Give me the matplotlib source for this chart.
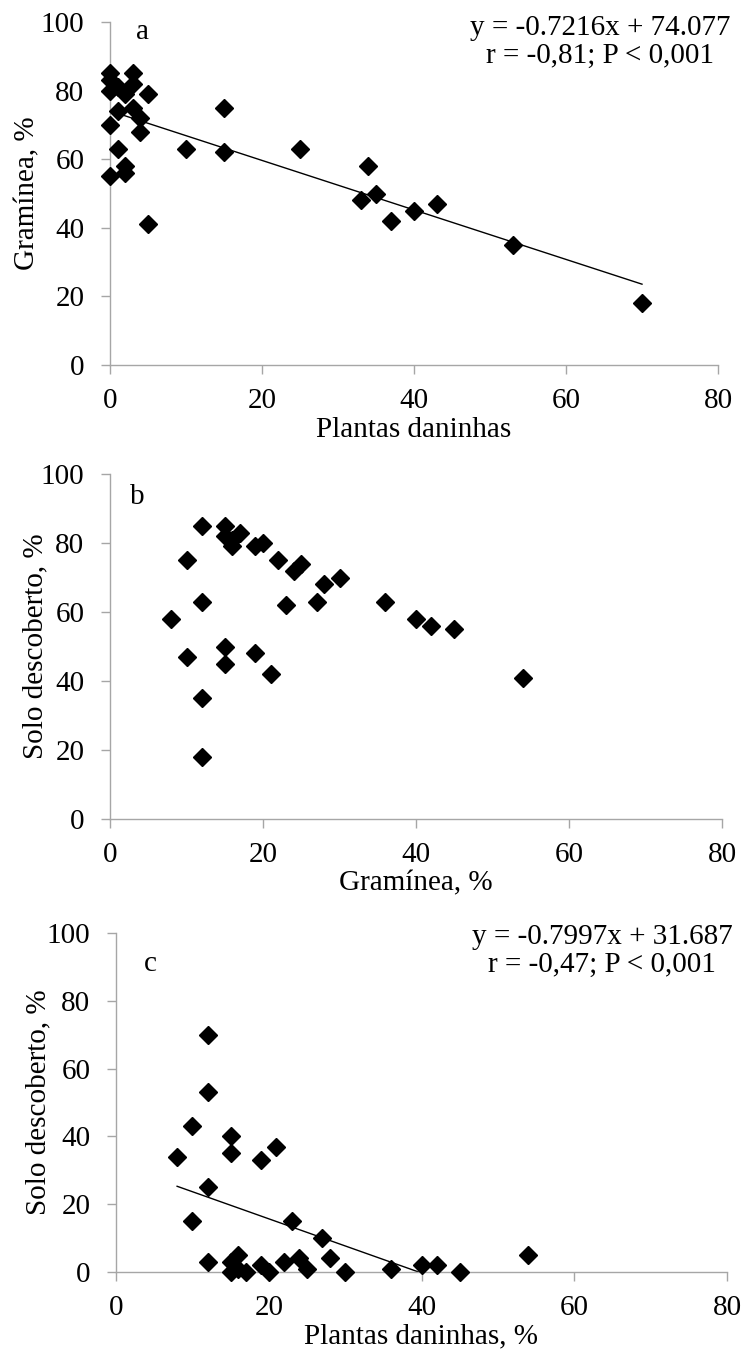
import matplotlib
matplotlib.use("Agg")
import matplotlib.pyplot as plt
import numpy as np

plt.rcParams['font.family'] = ['Liberation Serif', 'DejaVu Serif']

# Per-sample values
gramineas = [18, 35, 41, 42, 45, 47, 48, 50, 55, 56, 58, 58, 62, 63, 63, 63, 68, 70,
             72, 74, 75, 75, 79, 79, 80, 81, 82, 83, 85, 85]
plantas = [70, 53, 5, 37, 40, 43, 33, 35, 0, 2, 2, 34, 15, 25, 10, 1, 4, 0,
           4, 1, 15, 3, 5, 2, 0, 1, 3, 0, 3, 0]
b_x = [12, 12, 54, 21, 15, 10, 19, 15, 45, 42, 40, 8, 23, 12, 27, 36, 28, 30,
       24, 25, 10, 22, 16, 19, 20, 16, 15, 17, 12, 15]

# Regression coefficients shown on the chart
slope_a, intercept_a = -0.7216, 74.077
slope_c, intercept_c = -0.7997, 31.687

ticks_x = [0, 20, 40, 60, 80]
ticks_y = [0, 20, 40, 60, 80, 100]

W, H = 742, 1356
fig = plt.figure(figsize=(W / 100, H / 100), dpi=100)

def axes_px(left, top, right, bottom):
    return fig.add_axes([left / W, 1 - bottom / H, (right - left) / W, (bottom - top) / H])

ax_a = axes_px(110, 22, 718, 365)
ax_b = axes_px(110, 474, 722, 819)
ax_c = axes_px(116, 933, 727, 1272)

FS = 21
grey = '#a6a6a6'

def style(ax, xlabel, ylabel, ylab_px):
    ax.set_xlim(0, 80)
    ax.set_ylim(0, 100)
    ax.set_xticks(ticks_x)
    ax.set_yticks(ticks_y)
    for s in ['top', 'right']:
        ax.spines[s].set_visible(False)
    for s in ['left', 'bottom']:
        ax.spines[s].set_color(grey)
        ax.spines[s].set_linewidth(1.0)
    ax.tick_params(direction='out', length=6.5, width=1.0, color=grey,
                   labelsize=FS, labelcolor='black')
    ax.tick_params(axis='x', pad=10)
    ax.tick_params(axis='y', pad=12)
    ax.set_xlabel(xlabel, fontsize=FS, labelpad=2)
    ax.set_ylabel(ylabel, fontsize=FS, va='center')
    bbox = ax.get_position()
    left_px = bbox.x0 * W
    width_px = bbox.width * W
    ax.yaxis.set_label_coords((ylab_px - left_px) / width_px, 0.5)

mk = dict(marker='D', ms=9, color='black', linestyle='none', clip_on=False, zorder=3)

# Panel a
ax_a.plot(plantas, gramineas, **mk)
xa = np.array([min(plantas), max(plantas)])
ax_a.plot(xa, slope_a * xa + intercept_a, color='black', lw=1.0, zorder=2)
style(ax_a, 'Plantas daninhas', 'Gramínea, %', 27)
ax_a.text(4.3, 97, 'a', fontsize=FS, ha='center', va='center')
ax_a.text(600, H - 42, 'y = -0.7216x + 74.077\nr = -0,81; P < 0,001', transform=None,
          fontsize=FS, ha='center', va='center', multialignment='center', linespacing=1.1)

# Panel b
ax_b.plot(b_x, gramineas, **mk)
style(ax_b, 'Gramínea, %', 'Solo descoberto, %', 35)
ax_b.text(3.6, 93.4, 'b', fontsize=FS, ha='center', va='center')

# Panel c
ax_c.plot(b_x, plantas, **mk)
xc = np.array([min(b_x), max(b_x)])
ax_c.plot(xc, slope_c * xc + intercept_c, color='black', lw=1.0, zorder=2, clip_on=True)
style(ax_c, 'Plantas daninhas, %', 'Solo descoberto, %', 38)
ax_c.text(4.5, 91, 'c', fontsize=FS, ha='center', va='center')
ax_c.text(602, H - 951, 'y = -0.7997x + 31.687\nr = -0,47; P < 0,001', transform=None,
          fontsize=FS, ha='center', va='center', multialignment='center', linespacing=1.1)

fig.savefig('out.png', dpi=100)
